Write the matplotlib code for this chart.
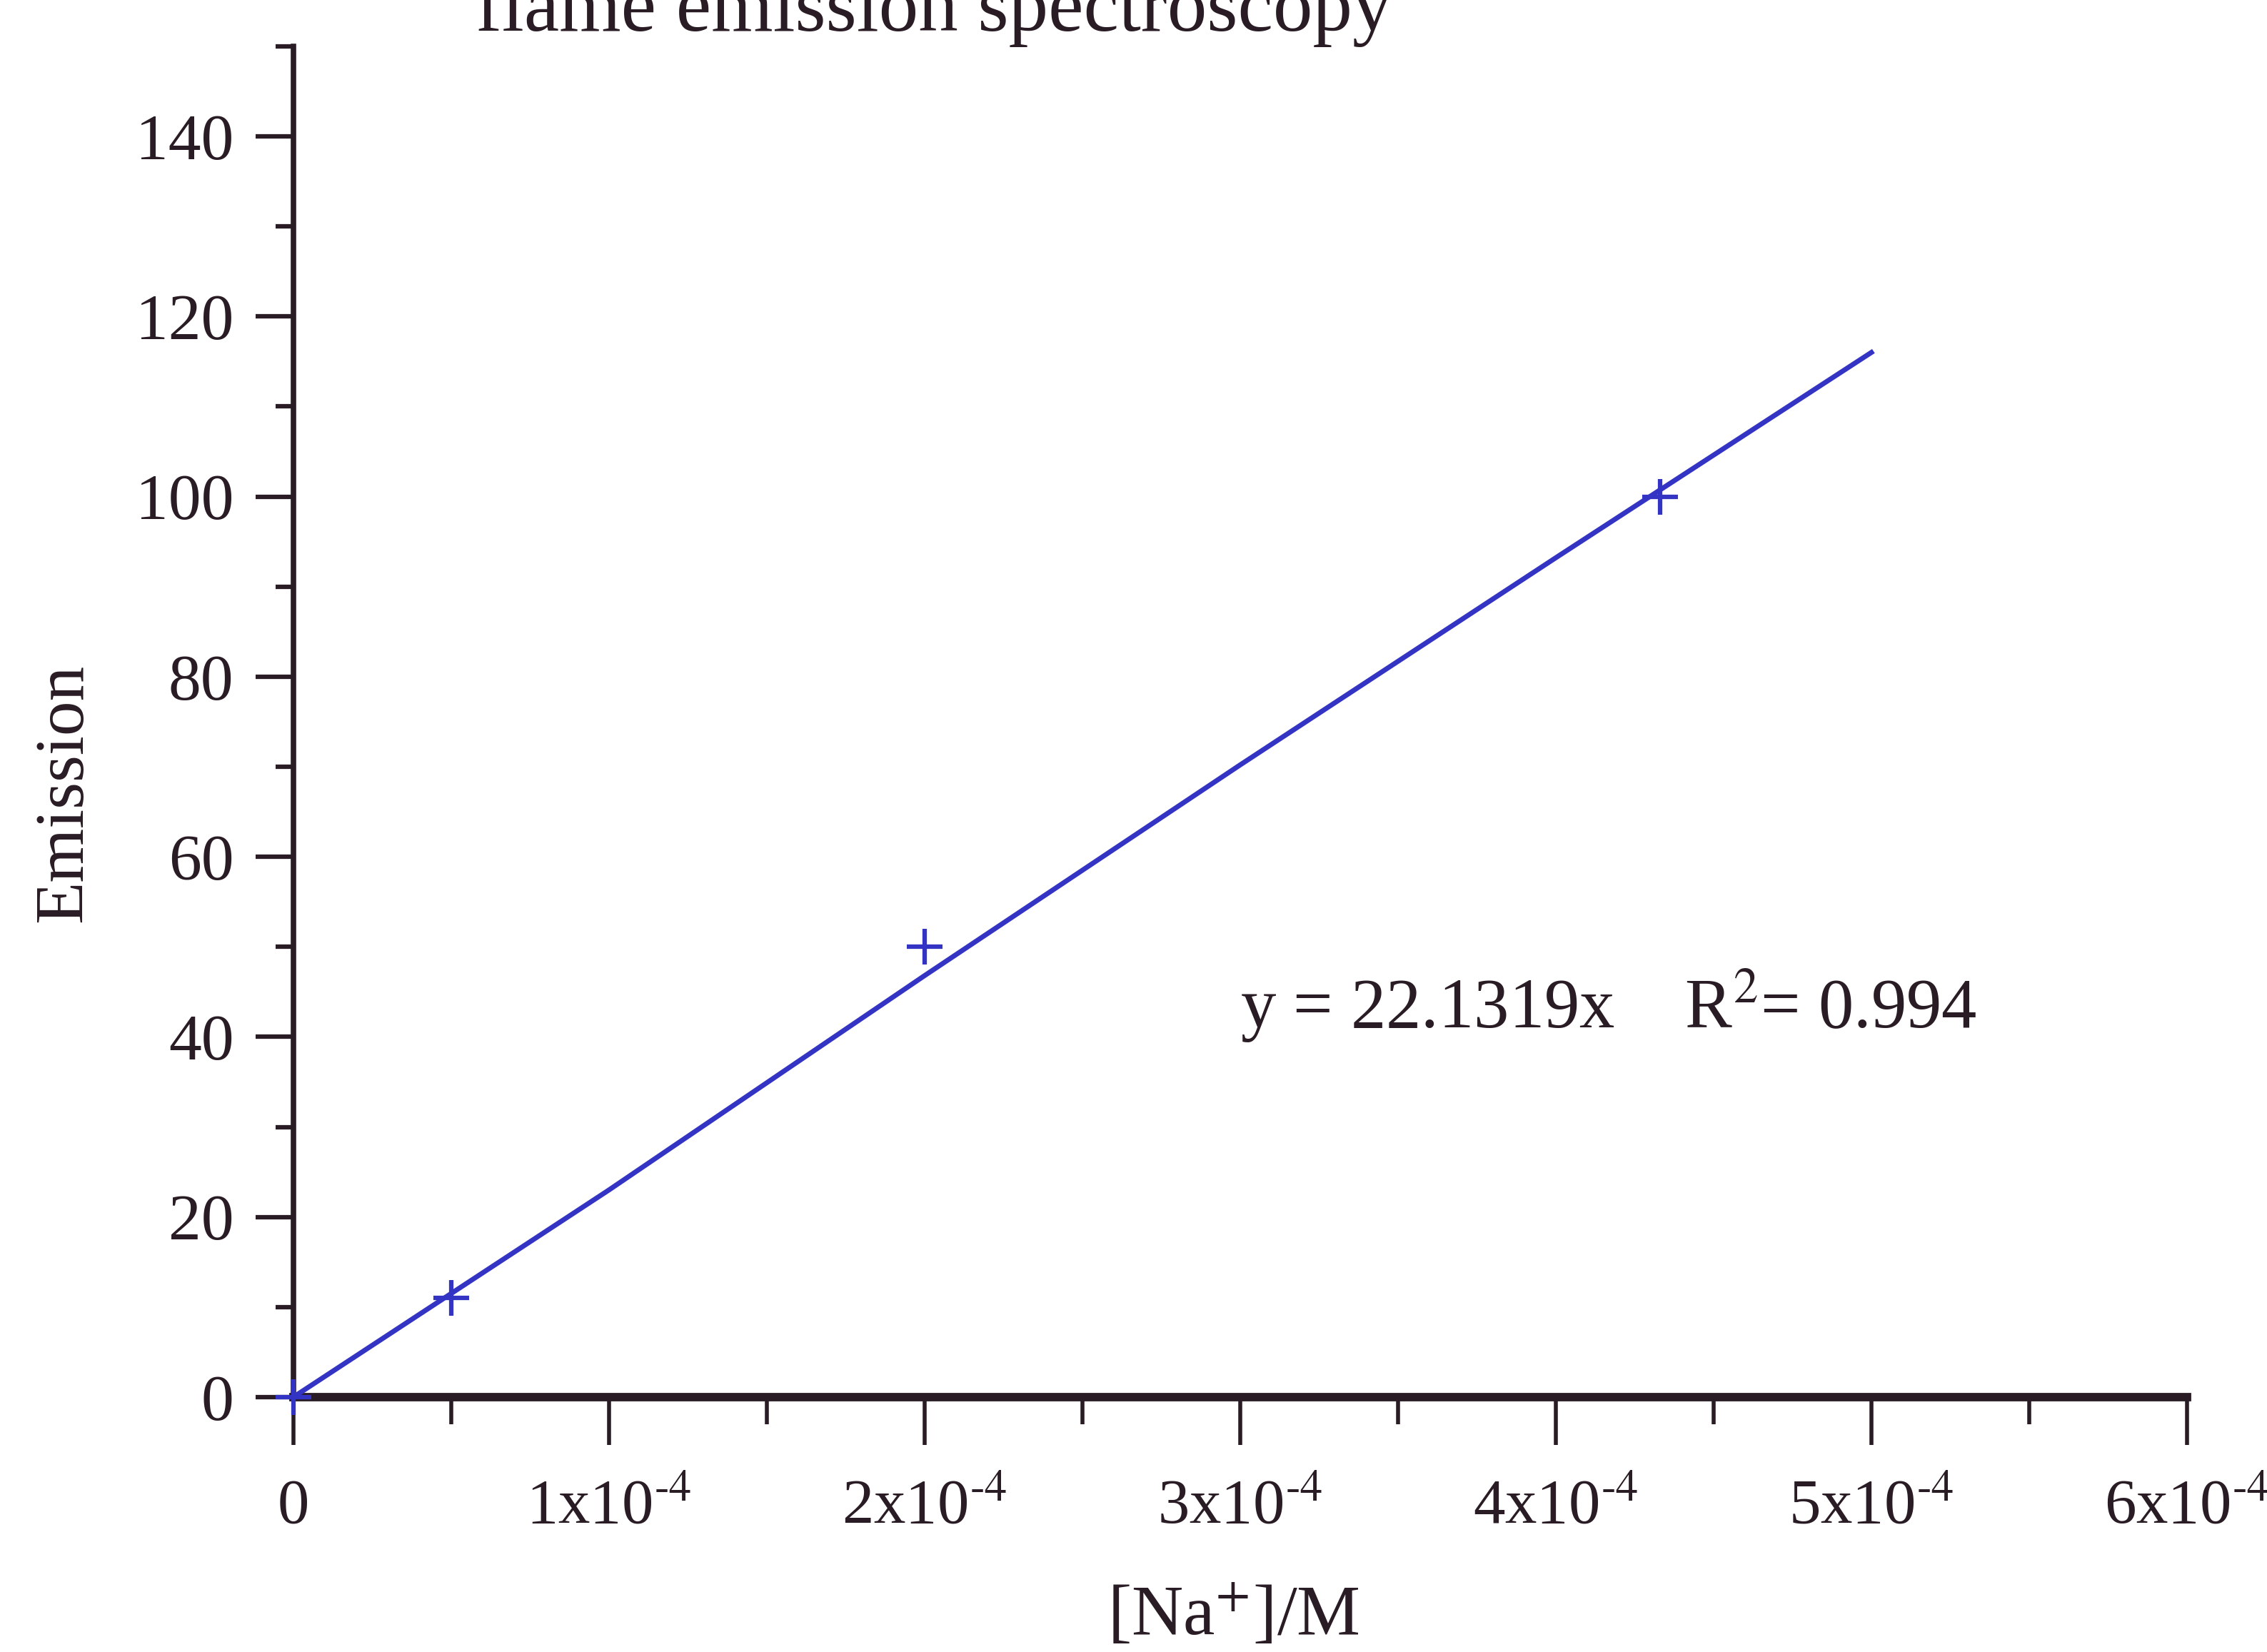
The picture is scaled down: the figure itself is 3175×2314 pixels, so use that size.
"""Calibration plot: flame emission spectroscopy of Na+."""

import matplotlib
matplotlib.use("Agg")
import matplotlib.pyplot as plt
from matplotlib.ticker import MultipleLocator, FixedLocator, FixedFormatter

# measured standards
conc = [0.0, 0.5e-4, 2.0e-4, 4.33e-4]
emission = [0.0, 11.0, 50.0, 100.0]

# fitted line as drawn on the chart
fit_x = [0.0, 1e-4, 2e-4, 3e-4, 4e-4, 5e-4]
fit_y = [0.0, 23.0, 46.8, 70.2, 93.2, 116.0]

x_ticks = [0, 1e-4, 2e-4, 3e-4, 4e-4, 5e-4, 6e-4]
x_tick_labels = ["0"] + ["%dx10$^{\u20104}$" % k for k in range(1, 7)]
y_ticks = [0, 20, 40, 60, 80, 100, 120, 140]

BLUE = "#3434c4"
INK = "#2a1c24"

plt.rcParams["font.family"] = ["Liberation Serif", "DejaVu Serif"]
plt.rcParams["mathtext.fontset"] = "stix"

fig = plt.figure(figsize=(31.75, 23.14), dpi=100)
ax = fig.add_axes([0.1294, 0.1543, 0.8353, 0.8177])

ax.plot(fit_x, fit_y, color=BLUE, linewidth=5.0, zorder=3)
ax.plot(conc, emission, linestyle="none", marker="+", markersize=36,
        markeredgewidth=4.5, color=BLUE, zorder=4, clip_on=False)

ax.set_xlim(0, 6e-4)
ax.set_ylim(0, 150)

for side in ("top", "right"):
    ax.spines[side].set_visible(False)
ax.spines["left"].set_linewidth(5.5)
ax.spines["bottom"].set_linewidth(8.5)
ax.spines["left"].set_color(INK)
ax.spines["bottom"].set_color(INK)

ax.xaxis.set_major_locator(FixedLocator(x_ticks))
ax.xaxis.set_major_formatter(FixedFormatter(x_tick_labels))
ax.xaxis.set_minor_locator(MultipleLocator(0.5e-4))
ax.yaxis.set_major_locator(FixedLocator(y_ticks))
ax.yaxis.set_minor_locator(MultipleLocator(10))

ax.tick_params(axis="x", which="major", length=48, width=4.0, pad=34,
               labelsize=64, color=INK, labelcolor=INK)
ax.tick_params(axis="x", which="minor", length=27, width=4.0, color=INK)
ax.tick_params(axis="y", which="major", length=38, width=4.5, pad=22,
               labelsize=66, color=INK, labelcolor=INK)
ax.tick_params(axis="y", which="minor", length=18, width=4.5, color=INK)

ax.text(3.0e-4, 41, "y = 22.1319x    R$^2$= 0.994", fontsize=71,
        color=INK, va="baseline", ha="left")

fig.text(0.412, 1 - 43 / 2314, "flame emission spectroscopy", fontsize=80,
         color=INK, ha="center", va="baseline")
fig.text(0.0287, 0.520, "Emission", fontsize=70, color=INK, rotation=90,
         ha="center", va="center")
fig.text(0.544, 1 - 2290 / 2314, "[Na$^{+}$]/M", fontsize=72, color=INK,
         ha="center", va="baseline")

fig.savefig("out.png", dpi=100, facecolor="white")
